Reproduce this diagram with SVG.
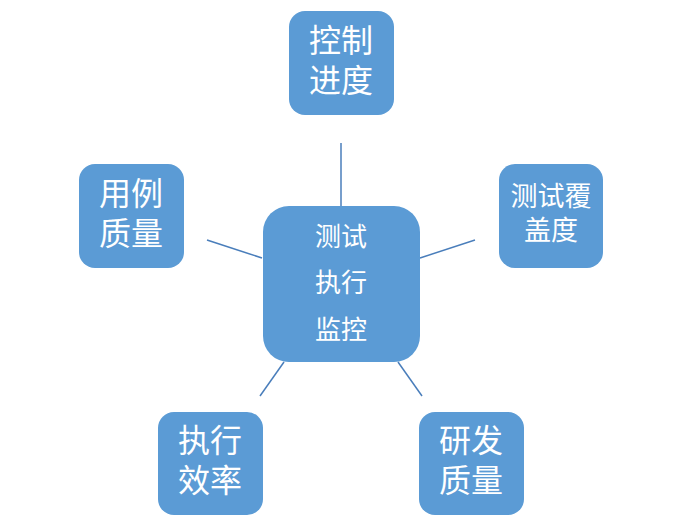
<svg xmlns="http://www.w3.org/2000/svg" width="682" height="526" viewBox="0 0 682 526">
<style>
.box{fill:#5B9BD5;}
.t{fill:#fff;font-family:"Noto Sans CJK SC","Liberation Sans",sans-serif;text-anchor:middle;}
.big{font-size:32px;}
.mid{font-size:27px;}
.c{font-size:26px;}
.ln{stroke:#4A7EBB;stroke-width:1.5;fill:none;}
</style>
<rect width="682" height="526" fill="#fff"/>
<g id="connectors">
<line class="ln" x1="341" y1="143" x2="341" y2="206"/>
<line class="ln" x1="207" y1="240" x2="262" y2="258"/>
<line class="ln" x1="420" y1="258" x2="475" y2="240"/>
<line class="ln" x1="284" y1="362" x2="260" y2="396"/>
<line class="ln" x1="398" y1="362" x2="422" y2="396"/>
</g>
<g id="center">
<rect class="box" x="263" y="206" width="157" height="156" rx="26"/>
<text class="t c" x="341" y="246">测试</text>
<text class="t c" x="341" y="292">执行</text>
<text class="t c" x="341" y="339">监控</text>
</g>
<g id="top">
<rect class="box" x="289" y="11" width="105" height="104" rx="16"/>
<text class="t big" x="341" y="52">控制</text>
<text class="t big" x="341" y="92">进度</text>
</g>
<g id="left">
<rect class="box" x="79" y="164" width="105" height="104" rx="16"/>
<text class="t big" x="131" y="205">用例</text>
<text class="t big" x="131" y="245">质量</text>
</g>
<g id="right">
<rect class="box" x="499" y="164" width="104" height="104" rx="16"/>
<text class="t mid" x="551" y="206">测试覆</text>
<text class="t mid" x="551" y="240">盖度</text>
</g>
<g id="bottomleft">
<rect class="box" x="158" y="412" width="105" height="103" rx="16"/>
<text class="t big" x="210" y="452">执行</text>
<text class="t big" x="210" y="492">效率</text>
</g>
<g id="bottomright">
<rect class="box" x="419" y="412" width="105" height="103" rx="16"/>
<text class="t big" x="471" y="452">研发</text>
<text class="t big" x="471" y="492">质量</text>
</g>
</svg>
